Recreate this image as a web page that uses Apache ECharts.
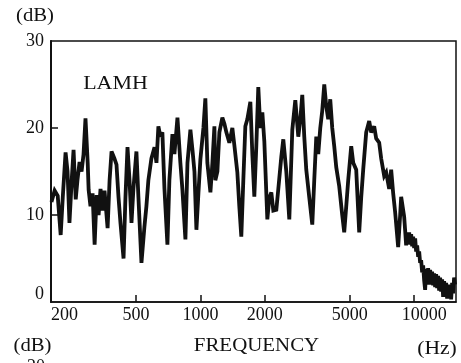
<!DOCTYPE html>
<html>
<head>
<meta charset="utf-8">
<script src="https://cdn.jsdelivr.net/npm/echarts@6/dist/echarts.min.js"></script>
<style>
    html, body { margin: 0; padding: 0; background: #fff; }
    #chart { width: 461px; height: 363px; }
</style>
</head>
<body>
<div id="chart"></div>
<script>
// frequency (Hz) and level (dB)
const freqHz = [
    201, 208, 215, 222, 227, 234, 239, 244, 250, 255, 261, 266, 272, 278, 284, 290, 297, 300, 306, 313,
    320, 327, 334, 341, 349, 356, 368, 376, 384, 396, 405, 414, 423, 437, 446, 456, 466, 476, 486, 502,
    513, 530, 547, 559, 571, 590, 610, 623, 636, 650, 664, 679, 701, 716, 740, 756, 781, 806, 824, 851,
    870, 898, 918, 938, 958, 979, 1000, 1033, 1055, 1078, 1114, 1138, 1163, 1175, 1201, 1227, 1267, 1295, 1323, 1366,
    1411, 1442, 1489, 1521, 1554, 1588, 1623, 1658, 1713, 1750, 1788, 1827, 1866, 1907, 1949, 1991, 2057, 2101, 2147, 2194,
    2266, 2315, 2391, 2443, 2523, 2606, 2692, 2780, 2871, 2934, 2997, 3062, 3129, 3232, 3338, 3410, 3485, 3560, 3638, 3717,
    3798, 3880, 3964, 4051, 4139, 4229, 4321, 4462, 4609, 4709, 4812, 4916, 5078, 5188, 5358, 5534, 5654, 5777, 5967, 6163,
    6297, 6503, 6645, 6863, 7012, 7243, 7400, 7643, 7809, 7979, 8152, 8420, 8603, 8697, 8982,
    9079, 9177, 9277, 9377, 9479, 9581, 9685, 9790, 9896, 10003, 10111, 10220, 10331, 10443, 10556, 10670, 10785, 10902, 11020, 11139,
    11260, 11382, 11505, 11629, 11755, 11883, 12011, 12141, 12273, 12405, 12540, 12675, 12813, 12951, 13091, 13233, 13376, 13521, 13668, 13816,
    13965, 14116, 14269, 14423, 14579, 14737, 14896, 15058, 15220, 15385, 15552
];
const levelDb = [
    11.5, 12.8, 12.2, 7.7, 12, 17.2, 15, 9.1, 14, 17.5, 11.8, 14, 16.1, 15, 17, 21.1, 16, 12.9, 11, 12.5,
    6.6, 12.3, 10, 13, 10.5, 12.8, 8.5, 14, 17.3, 16.5, 15.8, 12, 9, 5.0, 12, 17.8, 14, 9.1, 13, 17.3,
    12, 4.5, 8.6, 11, 14, 16.5, 17.8, 16, 20.2, 19, 19.5, 13, 6.6, 14, 19.3, 17, 21.2, 16, 12.9, 7.2,
    16, 19.8, 17.5, 15, 8.3, 12.5, 16.4, 20, 23.4, 16, 12.6, 16, 20.2, 14, 15, 19.5, 21.2, 20.5, 19.5, 18.3,
    20, 18, 14.9, 11, 7.5, 14, 20.2, 21, 23, 17, 12.1, 18, 24.7, 20, 21.8, 18.5, 9.5, 12, 12.6, 10.5,
    10.6, 13, 16.7, 18.7, 15, 9.5, 19.8, 23.2, 19, 21, 23.8, 19, 15.2, 12, 8.9, 14, 19, 17, 20, 22,
    25, 22.5, 21, 23.3, 20, 17.9, 15.5, 13.3, 10, 8, 11, 14, 17.9, 16, 15.2, 8, 12, 15.2, 19.5, 20.8,
    19.5, 20.2, 18.8, 18.3, 16.5, 14.5, 14.9, 13, 15.2, 12.5, 10.3, 6.3, 10, 12.1, 9.8,
    8.2, 6.5, 8.0, 6.8, 8.0, 6.6, 7.8, 6.4, 7.5, 6.2, 7.3, 5.8, 6.5, 5.2, 5.8, 4.5, 4.8, 3.4, 4.2, 2.5,
    1.4, 3.8, 2.2, 3.9, 2.0, 3.7, 2.0, 3.5, 1.9, 3.3, 1.7, 3.2, 1.6, 3.0, 1.3, 2.8, 1.2, 2.6, 0.6, 2.4,
    1.0, 2.2, 0.4, 2.0, 0.8, 1.9, 0.3, 2.2, 1.0, 2.8, 2.0
];

const xTickHz = [500, 1000, 2000, 5000, 10000];
const xLabelHz = [200, 500, 1000, 2000, 5000, 10000];
const yTicks = [10, 20];
const yLabels = [0, 10, 20, 30];

const FONT = 'Liberation Serif';
const INK = '#111';

const chart = echarts.init(document.getElementById('chart'), null, { renderer: 'canvas' });

const points = freqHz.map((f, i) => [Math.log10(f), levelDb[i]]);

const text = (str, x, y, size, sx) => ({
    type: 'text',
    x: x,
    y: y,
    scaleX: sx,
    style: {
        text: str,
        fill: INK,
        font: size + 'px "' + FONT + '"',
        align: 'center',
        verticalAlign: 'middle'
    }
});

const option = {
    backgroundColor: '#fff',
    animation: false,
    grid: {
        left: 51,
        right: 5,
        top: 41,
        bottom: 61,
        show: true,
        borderColor: INK,
        borderWidth: 1.5,
        outerBoundsMode: 'none'
    },
    xAxis: {
        type: 'value',
        min: Math.log10(200),
        max: Math.log10(15700),
        splitLine: { show: false },
        axisLine: { show: true, onZero: false, lineStyle: { color: INK, width: 1.5 } },
        axisTick: {
            show: true,
            inside: true,
            length: 7,
            customValues: xTickHz.map(v => Math.log10(v)),
            lineStyle: { color: INK, width: 1.5 }
        },
        axisLabel: {
            customValues: xLabelHz.map(v => Math.log10(v)),
            alignMinLabel: 'left',
            margin: 4,
            color: INK,
            fontFamily: FONT,
            fontSize: 18,
            formatter: (v) => {
                const hz = Math.round(Math.pow(10, v));
                return hz === 10000 ? '{far|' + hz + '}' : String(hz);
            },
            rich: {
                far: { padding: [0, 0, 0, 20], color: INK, fontFamily: FONT, fontSize: 18 }
            }
        }
    },
    yAxis: {
        type: 'value',
        min: 0,
        max: 30,
        interval: 10,
        splitLine: { show: false },
        axisLine: { show: true, lineStyle: { color: INK, width: 2 } },
        axisTick: {
            show: true,
            inside: true,
            length: 7,
            customValues: yTicks,
            lineStyle: { color: INK, width: 1.5 }
        },
        axisLabel: {
            customValues: yLabels,
            margin: 7,
            color: INK,
            fontFamily: FONT,
            fontSize: 18,
            formatter: (v) => v === 0 ? '{zero|0}' : String(v),
            rich: {
                zero: { padding: [0, 0, 16, 0], color: INK, fontFamily: FONT, fontSize: 18 }
            }
        }
    },
    series: [{
        type: 'line',
        data: points,
        showSymbol: false,
        smooth: false,
        clip: true,
        lineStyle: { color: INK, width: 3.8, join: 'miter', miterLimit: 3 }
    }],
    graphic: [
        text('(dB)', 35, 16, 18, 1.15),
        text('LAMH', 115.5, 84.5, 18, 1.22),
        text('FREQUENCY', 256.5, 346.5, 19, 1.1),
        text('(Hz)', 437, 349.5, 18, 1.2),
        text('(dB)', 32.5, 346, 18, 1.15),
        {
            type: 'text',
            x: 36,
            y: 358,
            style: {
                text: '20',
                fill: INK,
                font: '18px "' + FONT + '"',
                align: 'center',
                verticalAlign: 'top'
            }
        }
    ]
};

chart.setOption(option);
</script>
</body>
</html>
